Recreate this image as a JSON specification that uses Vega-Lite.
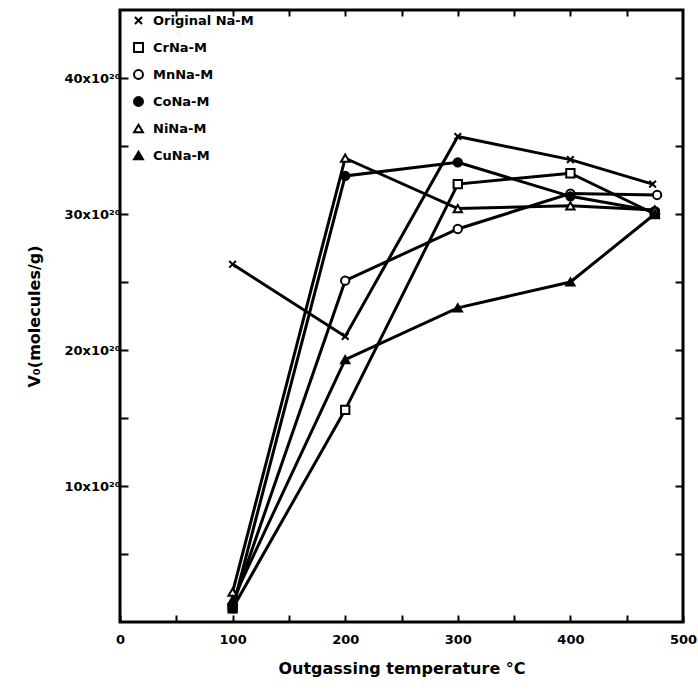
{
  "$schema": "https://vega.github.io/schema/vega-lite/v6.json",
  "autosize": "none",
  "width": 563,
  "height": 612,
  "padding": {"left": 120, "top": 10, "right": 15, "bottom": 70},
  "background": "white",
  "config": {
    "view": {"stroke": "black", "strokeWidth": 3},
    "font": "DejaVu Sans",
    "axis": {
      "domain": false,
      "grid": false,
      "tickColor": "black",
      "tickWidth": 2,
      "labelColor": "black",
      "titleColor": "black",
      "labelFont": "DejaVu Sans",
      "titleFont": "DejaVu Sans",
      "labelFontWeight": "bold",
      "titleFontWeight": "bold",
      "labelOverlap": false,
      "labelFlush": false,
      "labelBound": false
    }
  },
  "data": {
    "values": [
      {"series": "Original Na-M", "temp": 100, "v": 26.3},
      {"series": "Original Na-M", "temp": 200, "v": 21.0},
      {"series": "Original Na-M", "temp": 300, "v": 35.7},
      {"series": "Original Na-M", "temp": 400, "v": 34.0},
      {"series": "Original Na-M", "temp": 473, "v": 32.2},
      {"series": "CrNa-M", "temp": 100, "v": 1.0},
      {"series": "CrNa-M", "temp": 200, "v": 15.6},
      {"series": "CrNa-M", "temp": 300, "v": 32.2},
      {"series": "CrNa-M", "temp": 400, "v": 33.0},
      {"series": "CrNa-M", "temp": 475, "v": 30.0},
      {"series": "MnNa-M", "temp": 100, "v": 1.2},
      {"series": "MnNa-M", "temp": 200, "v": 25.1},
      {"series": "MnNa-M", "temp": 300, "v": 28.9},
      {"series": "MnNa-M", "temp": 400, "v": 31.5},
      {"series": "MnNa-M", "temp": 477, "v": 31.4},
      {"series": "CoNa-M", "temp": 100, "v": 1.0},
      {"series": "CoNa-M", "temp": 200, "v": 32.8},
      {"series": "CoNa-M", "temp": 300, "v": 33.8},
      {"series": "CoNa-M", "temp": 400, "v": 31.3},
      {"series": "CoNa-M", "temp": 475, "v": 30.2},
      {"series": "NiNa-M", "temp": 100, "v": 2.2},
      {"series": "NiNa-M", "temp": 200, "v": 34.1},
      {"series": "NiNa-M", "temp": 300, "v": 30.4},
      {"series": "NiNa-M", "temp": 400, "v": 30.6},
      {"series": "NiNa-M", "temp": 475, "v": 30.3},
      {"series": "CuNa-M", "temp": 100, "v": 1.6},
      {"series": "CuNa-M", "temp": 200, "v": 19.3},
      {"series": "CuNa-M", "temp": 300, "v": 23.1},
      {"series": "CuNa-M", "temp": 400, "v": 25.0},
      {"series": "CuNa-M", "temp": 475, "v": 30.0}
    ]
  },
  "layer": [
    {
      "mark": {"type": "line", "interpolate": "linear", "strokeWidth": 3, "color": "black"},
      "encoding": {
        "x": {
          "field": "temp", "type": "quantitative",
          "scale": {"domain": [0, 500], "nice": false},
          "axis": {
            "orient": "bottom",
            "values": [0, 50, 100, 150, 200, 250, 300, 350, 400, 450, 500],
            "labelExpr": "datum.value % 100 == 0 ? datum.label : ''",
            "tickSize": -7,
            "labelPadding": 18,
            "labelFontSize": 13,
            "title": "Outgassing temperature °C",
            "titleFontSize": 16,
            "titlePadding": 14
          }
        },
        "y": {
          "field": "v", "type": "quantitative",
          "scale": {"domain": [0, 45], "nice": false},
          "axis": {
            "orient": "left",
            "values": [5, 10, 15, 20, 25, 30, 35, 40],
            "labelExpr": "datum.value % 10 == 0 ? datum.value + 'x10²⁰' : ''",
            "tickSize": -8,
            "labelPadding": 8,
            "labelFontSize": 13,
            "title": "V₀(molecules/g)",
            "titleFontSize": 16,
            "titlePadding": 22
          }
        },
        "detail": {"field": "series"}
      }
    },
    {
      "mark": {"type": "point", "filled": true, "size": 70, "stroke": "black", "strokeWidth": 2, "opacity": 1},
      "encoding": {
        "x": {"field": "temp", "type": "quantitative", "axis": null},
        "y": {"field": "v", "type": "quantitative", "axis": null},
        "shape": {
          "field": "series", "type": "nominal",
          "scale": {
            "domain": ["Original Na-M", "CrNa-M", "MnNa-M", "CoNa-M", "NiNa-M", "CuNa-M"],
            "range": ["M-0.8,-0.8L0.8,0.8M0.8,-0.8L-0.8,0.8", "square", "circle", "circle", "triangle-up", "triangle-up"]
          },
          "legend": {
            "title": null,
            "orient": "none",
            "legendX": 12,
            "legendY": 4,
            "labelFontSize": 13,
            "labelFontWeight": "bold",
            "labelColor": "black",
            "symbolSize": 80,
            "symbolStrokeWidth": 2,
            "rowPadding": 10,
            "labelOffset": 8
          }
        },
        "fill": {
          "field": "series", "type": "nominal",
          "scale": {
            "domain": ["Original Na-M", "CrNa-M", "MnNa-M", "CoNa-M", "NiNa-M", "CuNa-M"],
            "range": ["black", "white", "white", "black", "white", "black"]
          },
          "legend": {
            "title": null,
            "orient": "none",
            "legendX": 12,
            "legendY": 4,
            "labelFontSize": 13,
            "labelFontWeight": "bold",
            "labelColor": "black",
            "symbolSize": 80,
            "symbolStrokeWidth": 2,
            "rowPadding": 10,
            "labelOffset": 8
          }
        }
      }
    },
    {
      "mark": {"type": "point", "opacity": 0},
      "encoding": {
        "x": {
          "field": "temp", "type": "quantitative",
          "axis": {"orient": "top", "values": [50, 100, 150, 200, 250, 300, 350, 400, 450], "labels": false, "tickSize": -6, "title": null}
        },
        "y": {
          "field": "v", "type": "quantitative",
          "axis": {"orient": "right", "values": [5, 10, 15, 20, 25, 30, 35, 40], "labels": false, "tickSize": -8, "title": null}
        }
      }
    }
  ],
  "resolve": {"axis": {"x": "independent", "y": "independent"}}
}
